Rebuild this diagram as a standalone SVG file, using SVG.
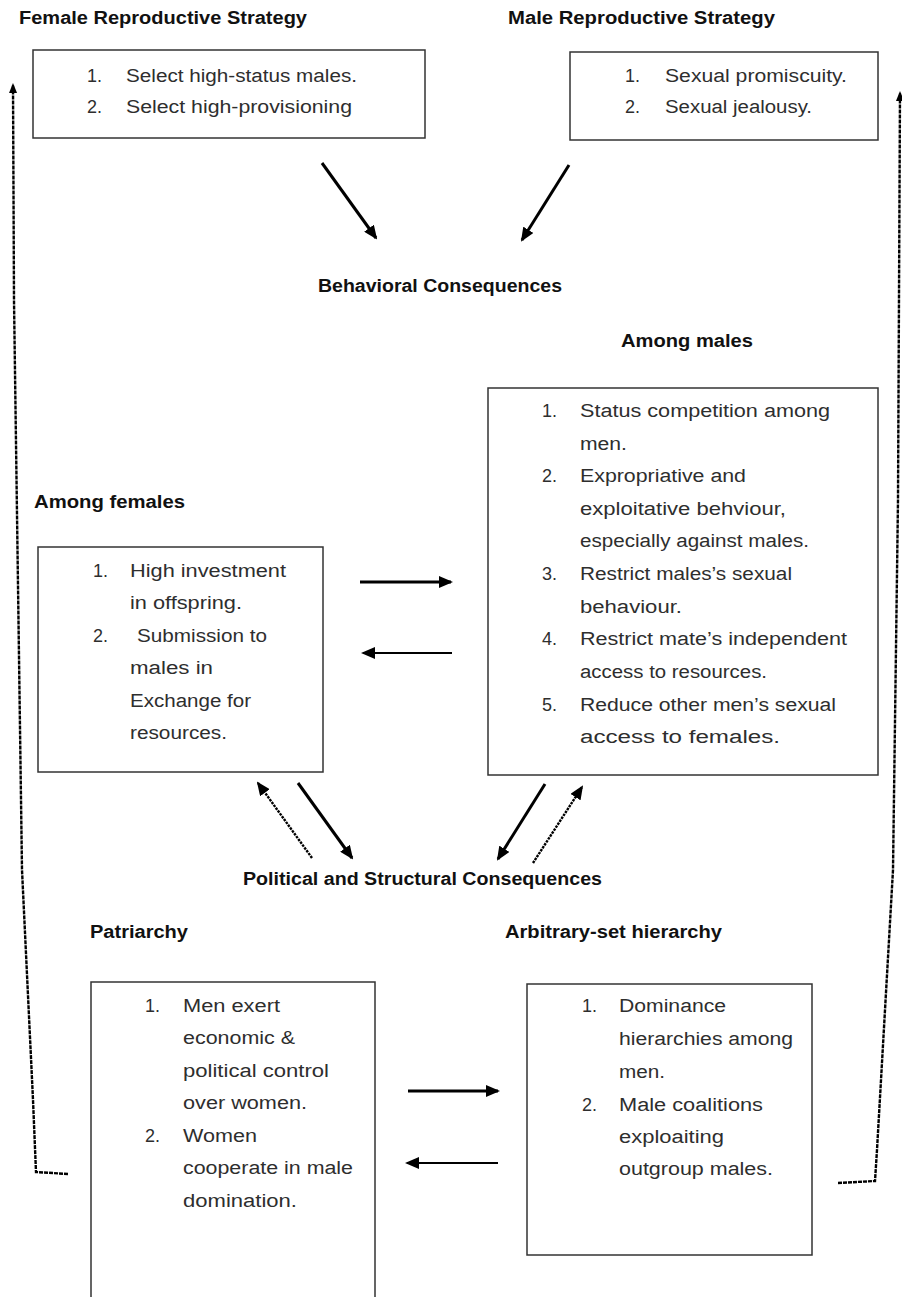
<svg xmlns="http://www.w3.org/2000/svg" width="902" height="1297" viewBox="0 0 902 1297">
<style>
.h{font-family:"Liberation Sans",Arial,sans-serif;font-weight:bold;font-size:18px;fill:#111}
.t{font-family:"Liberation Sans",Arial,sans-serif;font-size:18px;fill:#2e2e2e}
.box{fill:none;stroke:#333;stroke-width:1.5}
.sol{fill:none;stroke:#000;stroke-width:3;marker-end:url(#ah)}
.thin{fill:none;stroke:#000;stroke-width:2;marker-end:url(#ah)}
.dot{fill:none;stroke:#000;stroke-width:2.4;stroke-dasharray:2.5 1;marker-end:url(#ah)}
.loop{fill:none;stroke:#000;stroke-width:2.4;stroke-dasharray:4 1;marker-end:url(#ahs)}
</style>
<defs>
<marker id="ah" markerUnits="userSpaceOnUse" markerWidth="14" markerHeight="12" refX="12" refY="6" orient="auto" viewBox="0 0 14 12"><path d="M0,0 L14,6 L0,12 z" fill="#000"/></marker>
<marker id="ahs" markerUnits="userSpaceOnUse" markerWidth="10" markerHeight="10" refX="8" refY="4" orient="auto" viewBox="0 0 10 8"><path d="M0,0 L10,4 L0,8 z" fill="#000"/></marker>
</defs>
<rect width="902" height="1297" fill="#fff"/>

<g id="female-strategy">
<text class="h" x="19" y="24" textLength="288" lengthAdjust="spacingAndGlyphs">Female Reproductive Strategy</text>
<rect class="box" x="33" y="50" width="392" height="88"/>
<text class="t" x="87" y="82">1.</text>
<text class="t" x="126" y="82" textLength="231" lengthAdjust="spacingAndGlyphs">Select high-status males.</text>
<text class="t" x="87" y="113">2.</text>
<text class="t" x="126" y="113" textLength="226" lengthAdjust="spacingAndGlyphs">Select high-provisioning</text>
</g>

<g id="male-strategy">
<text class="h" x="508" y="24" textLength="267" lengthAdjust="spacingAndGlyphs">Male Reproductive Strategy</text>
<rect class="box" x="570" y="52" width="308" height="88"/>
<text class="t" x="625" y="82">1.</text>
<text class="t" x="665" y="82" textLength="182" lengthAdjust="spacingAndGlyphs">Sexual promiscuity.</text>
<text class="t" x="625" y="113">2.</text>
<text class="t" x="665" y="113" textLength="147" lengthAdjust="spacingAndGlyphs">Sexual jealousy.</text>
</g>

<g id="behavioral">
<text class="h" x="318" y="292" textLength="244" lengthAdjust="spacingAndGlyphs">Behavioral Consequences</text>
</g>

<g id="among-females">
<text class="h" x="34" y="508" textLength="151" lengthAdjust="spacingAndGlyphs">Among females</text>
<rect class="box" x="38" y="547" width="285" height="225"/>
<text class="t" x="93" y="577">1.</text>
<text class="t" x="130" y="577" textLength="156" lengthAdjust="spacingAndGlyphs">High investment</text>
<text class="t" x="130" y="609" textLength="112" lengthAdjust="spacingAndGlyphs">in offspring.</text>
<text class="t" x="93" y="642">2.</text>
<text class="t" x="137" y="642" textLength="130" lengthAdjust="spacingAndGlyphs">Submission to</text>
<text class="t" x="130" y="674" textLength="83" lengthAdjust="spacingAndGlyphs">males  in</text>
<text class="t" x="130" y="707" textLength="121" lengthAdjust="spacingAndGlyphs">Exchange for</text>
<text class="t" x="130" y="739" textLength="97" lengthAdjust="spacingAndGlyphs">resources.</text>
</g>

<g id="among-males">
<text class="h" x="621" y="347" textLength="132" lengthAdjust="spacingAndGlyphs">Among males</text>
<rect class="box" x="488" y="388" width="390" height="387"/>
<text class="t" x="542" y="417">1.</text>
<text class="t" x="580" y="417" textLength="250" lengthAdjust="spacingAndGlyphs">Status competition among</text>
<text class="t" x="580" y="450" textLength="47" lengthAdjust="spacingAndGlyphs">men.</text>
<text class="t" x="542" y="482">2.</text>
<text class="t" x="580" y="482" textLength="166" lengthAdjust="spacingAndGlyphs">Expropriative and</text>
<text class="t" x="580" y="515" textLength="206" lengthAdjust="spacingAndGlyphs">exploitative behviour,</text>
<text class="t" x="580" y="547" textLength="229" lengthAdjust="spacingAndGlyphs">especially against males.</text>
<text class="t" x="542" y="580">3.</text>
<text class="t" x="580" y="580" textLength="212" lengthAdjust="spacingAndGlyphs">Restrict males’s sexual</text>
<text class="t" x="580" y="613" textLength="102" lengthAdjust="spacingAndGlyphs">behaviour.</text>
<text class="t" x="542" y="645">4.</text>
<text class="t" x="580" y="645" textLength="267" lengthAdjust="spacingAndGlyphs">Restrict mate’s independent</text>
<text class="t" x="580" y="678" textLength="187" lengthAdjust="spacingAndGlyphs">access to resources.</text>
<text class="t" x="542" y="711">5.</text>
<text class="t" x="580" y="711" textLength="256" lengthAdjust="spacingAndGlyphs">Reduce other men’s sexual</text>
<text class="t" x="580" y="743" textLength="200" lengthAdjust="spacingAndGlyphs">access to females.</text>
</g>

<g id="political">
<text class="h" x="243" y="885" textLength="359" lengthAdjust="spacingAndGlyphs">Political and Structural Consequences</text>
</g>

<g id="patriarchy">
<text class="h" x="90" y="938" textLength="98" lengthAdjust="spacingAndGlyphs">Patriarchy</text>
<path class="box" d="M91,1310 L91,982 L375,982 L375,1310"/>
<text class="t" x="145" y="1012">1.</text>
<text class="t" x="183" y="1012" textLength="97" lengthAdjust="spacingAndGlyphs">Men exert</text>
<text class="t" x="183" y="1044" textLength="112" lengthAdjust="spacingAndGlyphs">economic &amp;</text>
<text class="t" x="183" y="1077" textLength="146" lengthAdjust="spacingAndGlyphs">political control</text>
<text class="t" x="183" y="1109" textLength="124" lengthAdjust="spacingAndGlyphs">over women.</text>
<text class="t" x="145" y="1142">2.</text>
<text class="t" x="183" y="1142" textLength="74" lengthAdjust="spacingAndGlyphs">Women</text>
<text class="t" x="183" y="1174" textLength="170" lengthAdjust="spacingAndGlyphs">cooperate in male</text>
<text class="t" x="183" y="1207" textLength="114" lengthAdjust="spacingAndGlyphs">domination.</text>
</g>

<g id="arbitrary-set">
<text class="h" x="505" y="938" textLength="217" lengthAdjust="spacingAndGlyphs">Arbitrary-set hierarchy</text>
<rect class="box" x="527" y="984" width="285" height="271"/>
<text class="t" x="582" y="1012">1.</text>
<text class="t" x="619" y="1012" textLength="107" lengthAdjust="spacingAndGlyphs">Dominance</text>
<text class="t" x="619" y="1045" textLength="174" lengthAdjust="spacingAndGlyphs">hierarchies among</text>
<text class="t" x="619" y="1078" textLength="46" lengthAdjust="spacingAndGlyphs">men.</text>
<text class="t" x="582" y="1111">2.</text>
<text class="t" x="619" y="1111" textLength="144" lengthAdjust="spacingAndGlyphs">Male coalitions</text>
<text class="t" x="619" y="1143" textLength="105" lengthAdjust="spacingAndGlyphs">exploaiting</text>
<text class="t" x="619" y="1175" textLength="154" lengthAdjust="spacingAndGlyphs">outgroup males.</text>
</g>

<g id="connectors">
<line class="sol" x1="322" y1="163" x2="376" y2="238"/>
<line class="sol" x1="569" y1="165" x2="522" y2="240"/>
<line class="sol" x1="360" y1="582" x2="451" y2="582"/>
<line class="thin" x1="452" y1="653" x2="363" y2="653"/>
<line class="dot" x1="312" y1="858" x2="258" y2="783"/>
<line class="sol" x1="298" y1="783" x2="352" y2="858"/>
<line class="sol" x1="545" y1="784" x2="498" y2="859"/>
<line class="dot" x1="533" y1="863" x2="582" y2="787"/>
<line class="sol" x1="408" y1="1091" x2="498" y2="1091"/>
<line class="thin" x1="498" y1="1163" x2="407" y2="1163"/>
<path class="loop" d="M68,1174 L36,1172 L33,1100 L22,870 L14,300 L13,85"/>
<path class="loop" d="M838,1183 L875,1181 L877,1150 L893,870 L898,500 L900,93"/>
</g>
</svg>
